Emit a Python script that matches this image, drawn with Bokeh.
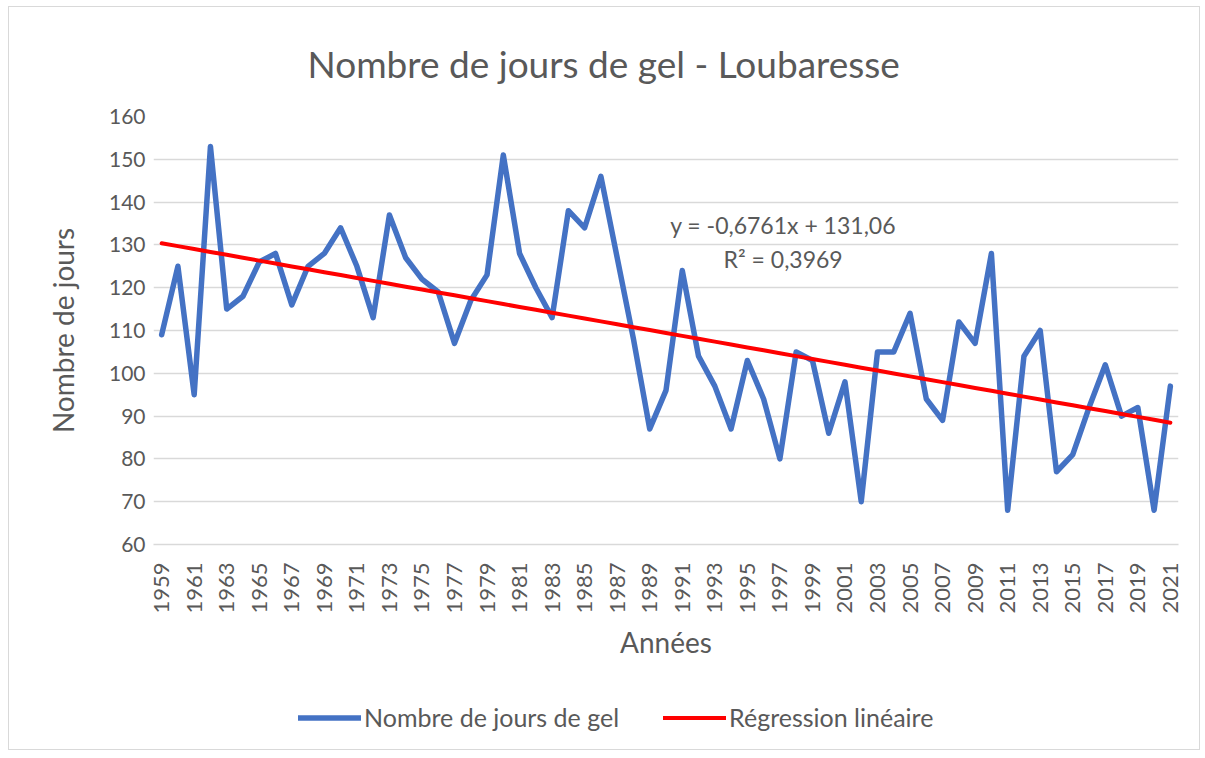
from math import pi
import numpy as np
from bokeh.plotting import figure
from bokeh.layouts import column
from bokeh.models import Range1d, FixedTicker, Legend, LegendItem, Label
from bokeh.embed import file_html
from bokeh.resources import INLINE

years = [1959, 1960, 1961, 1962, 1963, 1964, 1965, 1966, 1967, 1968,
         1969, 1970, 1971, 1972, 1973, 1974, 1975, 1976, 1977, 1978,
         1979, 1980, 1981, 1982, 1983, 1984, 1985, 1986, 1987, 1988,
         1989, 1990, 1991, 1992, 1993, 1994, 1995, 1996, 1997, 1998,
         1999, 2000, 2001, 2002, 2003, 2004, 2005, 2006, 2007, 2008,
         2009, 2010, 2011, 2012, 2013, 2014, 2015, 2016, 2017, 2018,
         2019, 2020, 2021]
frost_days = [109, 125, 95, 153, 115, 118, 126, 128, 116, 125,
              128, 134, 125, 113, 137, 127, 122, 119, 107, 117,
              123, 151, 128, 120, 113, 138, 134, 146, 127, 108,
              87, 96, 124, 104, 97, 87, 103, 94, 80, 105,
              103, 86, 98, 70, 105, 105, 114, 94, 89, 112,
              107, 128, 68, 104, 110, 77, 81, 92, 102, 90,
              92, 68, 97]
slope = -0.6761
intercept = 131.06
r_squared = 0.3969
y_ticks = [60, 70, 80, 90, 100, 110, 120, 130, 140, 150, 160]

FONT = "Lato"
TXT = "#595959"
BLUE = "#4472C4"
RED = "#FF0000"

idx = np.arange(1, len(years) + 1)
trend = slope * idx + intercept

p = figure(width=1190, height=683, output_backend="svg", toolbar_location=None,
           x_range=Range1d(0.5, len(years) + 0.5), y_range=Range1d(60, 160),
           min_border_left=144, min_border_right=21, min_border_top=107,
           min_border_bottom=146)
p.outline_line_color = None
p.background_fill_color = "white"
p.border_fill_color = "white"

p.title.text = "Nombre de jours de gel - Loubaresse"
p.title.align = "left"
p.title.offset = 154
p.title.standoff = 62
p.title.text_font = FONT
p.title.text_font_size = "37px"
p.title.text_font_style = "normal"
p.title.text_color = TXT

# axes
p.xaxis.ticker = FixedTicker(ticks=[int(i) for i in idx[::2]])
p.xaxis.major_label_overrides = {int(i): str(y) for i, y in zip(idx, years)}
p.xaxis.major_label_orientation = pi / 2
p.xaxis.axis_line_color = "#d9d9d9"
p.xaxis.axis_line_width = 1.5
p.xaxis.major_tick_line_color = None
p.xaxis.major_tick_out = 0
p.xaxis.major_tick_in = 0
p.xaxis.minor_tick_line_color = None
p.xaxis.major_label_text_font = FONT
p.xaxis.major_label_text_font_size = "22px"
p.xaxis.major_label_text_color = TXT
p.xaxis.major_label_standoff = 18
p.xaxis.axis_label = "Années"
p.xaxis.axis_label_text_font = FONT
p.xaxis.axis_label_text_font_size = "28px"
p.xaxis.axis_label_text_font_style = "normal"
p.xaxis.axis_label_text_color = TXT
p.xaxis.axis_label_standoff = 8

p.yaxis.ticker = FixedTicker(ticks=y_ticks)
p.yaxis.axis_line_color = None
p.yaxis.major_tick_line_color = None
p.yaxis.major_tick_out = 0
p.yaxis.major_tick_in = 0
p.yaxis.minor_tick_line_color = None
p.yaxis.major_label_text_font = FONT
p.yaxis.major_label_text_font_size = "21px"
p.yaxis.major_label_text_color = TXT
p.yaxis.major_label_standoff = 8
p.yaxis.axis_label = "Nombre de jours"
p.yaxis.axis_label_text_font = FONT
p.yaxis.axis_label_text_font_size = "28px"
p.yaxis.axis_label_text_font_style = "normal"
p.yaxis.axis_label_text_color = TXT
p.yaxis.axis_label_standoff = 26

p.xgrid.grid_line_color = None
p.ygrid.grid_line_color = "#d9d9d9"
p.ygrid.grid_line_width = 1.5

p.line(idx, frost_days, line_color=BLUE, line_width=5.5,
       line_join="round", line_cap="round")
p.line(idx, trend, line_color=RED, line_width=4,
       line_join="round", line_cap="round")

eq1 = "y = {:.4f}x + {:.2f}".format(slope, intercept).replace(".", ",")
eq2 = "R\u00b2 = {:.4f}".format(r_squared).replace(".", ",")
for txt, yy in [(eq1, 134.6), (eq2, 126.8)]:
    p.add_layout(Label(x=39.2, y=yy, text=txt, text_align="center",
                       text_baseline="middle", text_font=FONT,
                       text_font_size="23px", text_color=TXT))

# legend strip below the chart (frame aligned with the chart frame by column)
pl = figure(width=1190, height=59, output_backend="svg", toolbar_location=None,
            x_range=Range1d(0, 1), y_range=Range1d(0, 1),
            min_border_left=0, min_border_right=0, min_border_top=0,
            min_border_bottom=0, x_axis_type=None, y_axis_type=None)
pl.outline_line_color = None
pl.grid.visible = False
pl.background_fill_color = "white"
pl.border_fill_color = "white"
k_data = pl.line(idx, frost_days, line_color=BLUE, line_width=5.5,
                 line_cap="round", visible=False)
k_trend = pl.line(idx, trend, line_color=RED, line_width=4,
                  line_cap="round", visible=False)
legend = Legend(items=[LegendItem(label="Nombre de jours de gel", renderers=[k_data]),
                       LegendItem(label="Régression linéaire", renderers=[k_trend])],
                location=(145, 17), orientation="horizontal", spacing=44,
                label_standoff=3, glyph_width=63, glyph_height=25,
                padding=0, margin=0, border_line_color=None,
                background_fill_alpha=0, label_text_font=FONT,
                label_text_font_size="25px", label_text_color=TXT)
pl.add_layout(legend, "center")

layout = column(p, pl, spacing=0,
                styles={"border": "1px solid #d9d9d9", "margin": "6px 0 0 8px"})

open("out.html", "w").write(file_html(layout, INLINE))
